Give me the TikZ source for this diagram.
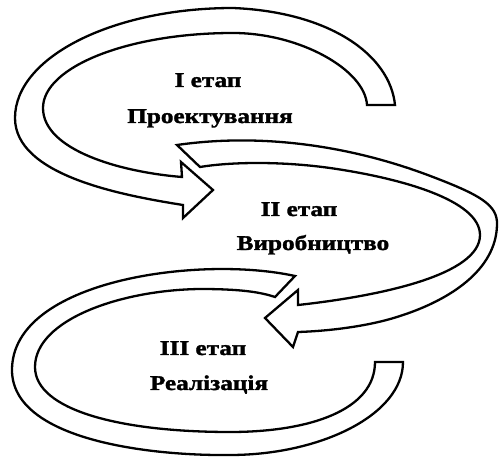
\documentclass[tikz,border=0pt]{standalone}
\usepackage{fontspec}
\usepackage{tikz}
\newfontfamily\stagefont[FakeStretch=1.2, FakeBold=1.6]{Liberation Serif Bold}
\tikzset{
  band/.style={draw=black, fill=white, line width=2.3pt},
  stage/.style={anchor=base, inner sep=0pt, font=\stagefont\fontsize{21}{25}\selectfont},
}
\begin{document}
\begin{tikzpicture}[x=1pt, y=-1pt]
  \useasboundingbox (0,0) rectangle (499,457);
  % stage I: loop with head
  \draw[band] (395,105) .. controls (390,55) and (330,12) .. (233,8)
    .. controls (113,8) and (15,57) .. (15,118)
    .. controls (15,175) and (120,195) .. (183,205)
    -- (183,218) -- (213,190) -- (181,162) -- (182,177)
    .. controls (120,172) and (43,150) .. (43,108)
    .. controls (43,67) and (128,33) .. (233,33)
    .. controls (300,33) and (365,70) .. (367,105) -- cycle;
  % stage II: loop with head
  \draw[band] (177,145) .. controls (260,133) and (350,145) .. (433,177)
    .. controls (480,195) and (498,205) .. (497,225)
    .. controls (496,270) and (450,300) .. (400,316)
    .. controls (370,326) and (330,331) .. (298,332)
    -- (293,347) -- (265,318) -- (298,290) -- (298,305)
    .. controls (380,296) and (480,275) .. (480,235)
    .. controls (480,200) and (400,178) .. (330,168)
    .. controls (280,161) and (230,162) .. (200,167) -- cycle;
  % stage III: open loop
  \draw[band] (295,276) .. controls (200,255) and (12,280) .. (12,370)
    .. controls (12,440) and (150,456) .. (230,455)
    .. controls (320,455) and (403,415) .. (403,362)
    -- (375,362)
    .. controls (375,410) and (310,432) .. (230,432)
    .. controls (120,432) and (35,410) .. (35,367)
    .. controls (35,320) and (120,290) .. (200,289)
    .. controls (240,289) and (260,292) .. (275,297) -- cycle;
  % labels
  \node[stage] (t1a) at (208,87) {I етап};
  \node[stage] (t1b) at (210,123) {Проектування};
  \node[stage] (t2a) at (299,216) {II етап};
  \node[stage] (t2b) at (313,250) {Виробництво};
  \node[stage] (t3a) at (203,355) {III етап};
  \node[stage] (t3b) at (209,390) {Реалізація};
\end{tikzpicture}
\end{document}
